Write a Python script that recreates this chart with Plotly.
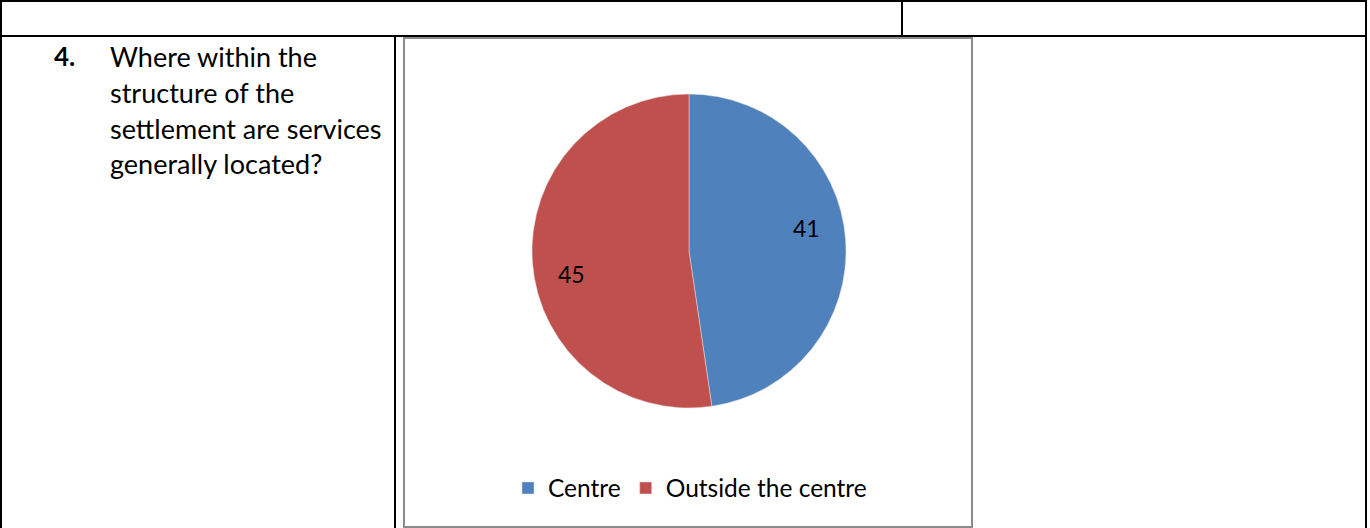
import math
import plotly.graph_objects as go

# ---- data ----
categories = ["Centre", "Outside the centre"]
values = [41, 45]
colors = ["#4F81BD", "#C0504D"]
question_number = "4."
question_lines = ["Where within the", "structure of the", "settlement are services", "generally located?"]

W, H = 1370, 528
FONT = "Lato"

def px(x):
    return x / W

def py(y):
    return 1 - y / H

# pie domain in pixels
PX0, PX1, PY0, PY1 = 532, 846, 94, 408
cx, cy = (PX0 + PX1) / 2, (PY0 + PY1) / 2
R = (PX1 - PX0) / 2

fig = go.Figure()
fig.add_trace(go.Pie(
    labels=categories,
    values=values,
    sort=False,
    direction="clockwise",
    rotation=0,
    marker=dict(colors=colors, line=dict(color="#E0E0E0", width=0.5)),
    textinfo="none",
    domain=dict(x=[px(PX0), px(PX1)], y=[py(PY1), py(PY0)]),
    hoverinfo="label+value",
))

# data labels placed from the slice angles
total = sum(values)
annotations = []
cum = 0
for v in values:
    mid = (cum + v / 2) / total * 360 - 7
    cum += v
    a = math.radians(mid)
    lx = cx + 0.765 * R * math.sin(a)
    ly = cy - 0.765 * R * math.cos(a)
    annotations.append(dict(text=str(v), xref="paper", yref="paper", x=px(lx), y=py(ly),
                            xanchor="center", yanchor="middle", showarrow=False,
                            font=dict(family=FONT, size=23, color="#000000")))

shapes = []
def line(x0, y0, x1, y1, color="#000000", width=2):
    shapes.append(dict(type="line", xref="paper", yref="paper",
                       x0=px(x0), y0=py(y0), x1=px(x1), y1=py(y1),
                       line=dict(color=color, width=width)))

# table lines
line(0, 1, 1367, 1)
line(1, 0, 1, H)
line(0, 36, 1367, 36)
line(902, 0, 902, 36)
line(1366, 0, 1366, H)
line(395, 36, 395, H)
# chart frame (gray)
shapes.append(dict(type="rect", xref="paper", yref="paper",
                   x0=px(404), y0=py(527), x1=px(972), y1=py(38),
                   line=dict(color="#8C8C8C", width=2), fillcolor="rgba(0,0,0,0)"))

annotations.append(dict(text="<b>%s</b>" % question_number, xref="paper", yref="paper",
                        x=px(52), y=py(56), xanchor="left", yanchor="middle", showarrow=False,
                        font=dict(family=FONT, size=26, color="#000000")))
for i, t in enumerate(question_lines):
    annotations.append(dict(text=t, xref="paper", yref="paper",
                            x=px(108), y=py(56 + 36 * i), xanchor="left", yanchor="middle",
                            showarrow=False, font=dict(family=FONT, size=27, color="#000000")))

fig.update_layout(
    width=W, height=H,
    margin=dict(l=0, r=0, t=0, b=0),
    paper_bgcolor="#FFFFFF",
    plot_bgcolor="#FFFFFF",
    shapes=shapes,
    annotations=annotations,
    showlegend=True,
    legend=dict(orientation="h", x=px(690), y=py(488), xanchor="center", yanchor="middle",
                font=dict(family=FONT, size=24.5, color="#000000"),
                bgcolor="rgba(0,0,0,0)"),
)

fig.write_html("out.html", config={"displayModeBar": False},
               post_script="document.body.style.margin='0';document.body.style.overflow='hidden';")
